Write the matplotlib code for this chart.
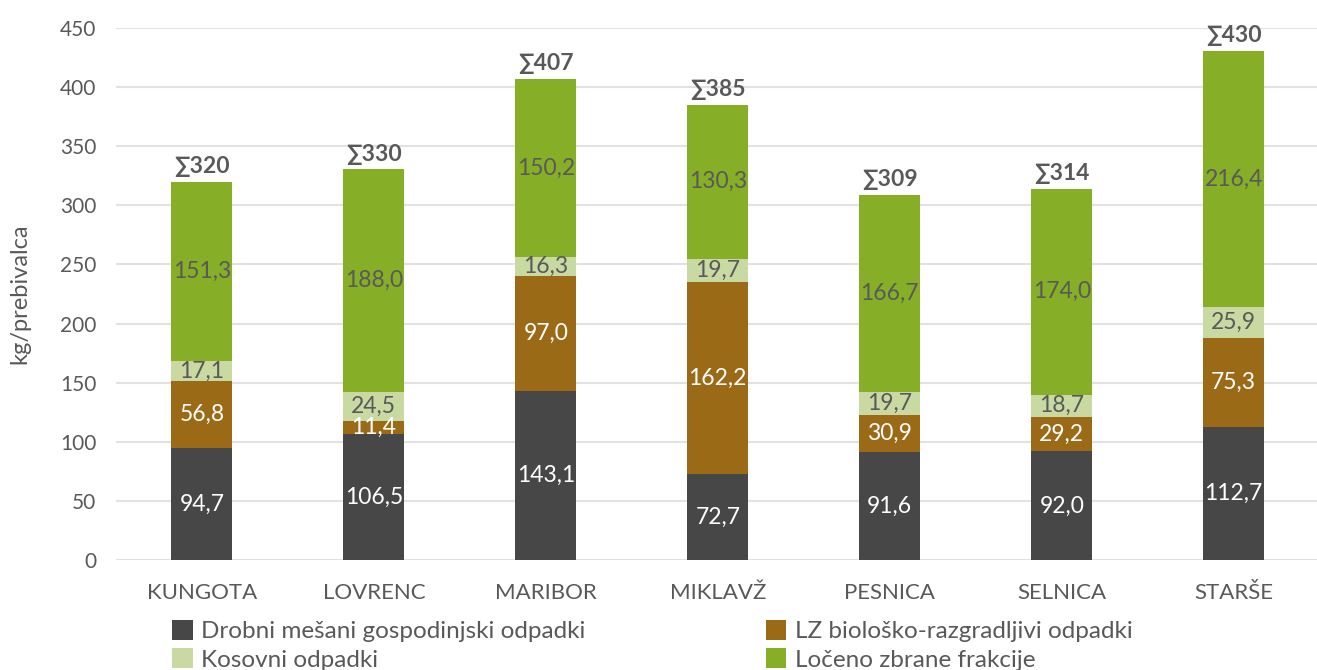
import numpy as np
import matplotlib.pyplot as plt

# data
obcine = ['KUNGOTA', 'LOVRENC', 'MARIBOR', 'MIKLAVŽ', 'PESNICA', 'SELNICA', 'STARŠE']
drobni = [94.7, 106.5, 143.1, 72.7, 91.6, 92.0, 112.7]
lz_bio = [56.8, 11.4, 97.0, 162.2, 30.9, 29.2, 75.3]
kosovni = [17.1, 24.5, 16.3, 19.7, 19.7, 18.7, 25.9]
loceno = [151.3, 188.0, 150.2, 130.3, 166.7, 174.0, 216.4]
serije = ['Drobni mešani gospodinjski odpadki', 'LZ biološko-razgradljivi odpadki',
          'Kosovni odpadki', 'Ločeno zbrane frakcije']

plt.rcParams['font.family'] = ['Lato', 'DejaVu Sans']
siva = '#595959'
barve = ['#474747', '#9b6a17', '#c9d9a2', '#87ae27']
barve_txt = ['white', 'white', siva, siva]

fig = plt.figure(figsize=(13.17, 6.70), dpi=100)
ax = fig.add_axes([0.088, 0.1637, 0.914, 0.795])

x = np.arange(len(obcine))
podatki = [drobni, lz_bio, kosovni, loceno]
spodaj = np.zeros(len(obcine))
stolpci = []
for vals, barva, tb, ime in zip(podatki, barve, barve_txt, serije):
    vals = np.array(vals)
    stolpci.append(ax.bar(x, vals, 0.355, bottom=spodaj, color=barva, label=ime, zorder=3))
    for xi, b, v in zip(x, spodaj, vals):
        ax.text(xi, b + v / 2, f'{v:.1f}'.replace('.', ','), ha='center', va='center',
                color=tb, fontsize=16.5, zorder=4)
    spodaj += vals

for xi, s in zip(x, spodaj):
    ax.text(xi, s + 4, f'∑{round(s):d}', ha='center', va='bottom', color=siva,
            fontsize=16.5, fontweight='bold')

ax.set_xlim(-0.5, 6.5)
ax.set_ylim(0, 450)
ax.set_yticks(np.arange(0, 451, 50))
ax.set_xticks(x)
ax.set_xticklabels(obcine)
ax.tick_params(length=0, colors=siva)
ax.tick_params(axis='x', labelsize=16, pad=16)
ax.tick_params(axis='y', labelsize=15, pad=14)
ax.grid(axis='y', color='#e1e1e6', linewidth=1.5, zorder=0)
for s in ax.spines.values():
    s.set_visible(False)
ax.set_ylabel('kg/prebivalca', fontsize=17, color=siva)
ax.yaxis.set_label_coords(-0.071, 0.5)

# vrstni red, da se legenda polni po vrsticah
red = [0, 2, 1, 3]
ax.legend([stolpci[i] for i in red], [serije[i] for i in red],
          loc='upper left', bbox_to_anchor=(0.0387, -0.093), ncol=2, frameon=False,
          fontsize=17.5, labelcolor=siva, handlelength=0.85, handleheight=0.9,
          handletextpad=0.35, columnspacing=7.4, labelspacing=0.25, borderaxespad=0)

fig.savefig('out.png', dpi=100)
